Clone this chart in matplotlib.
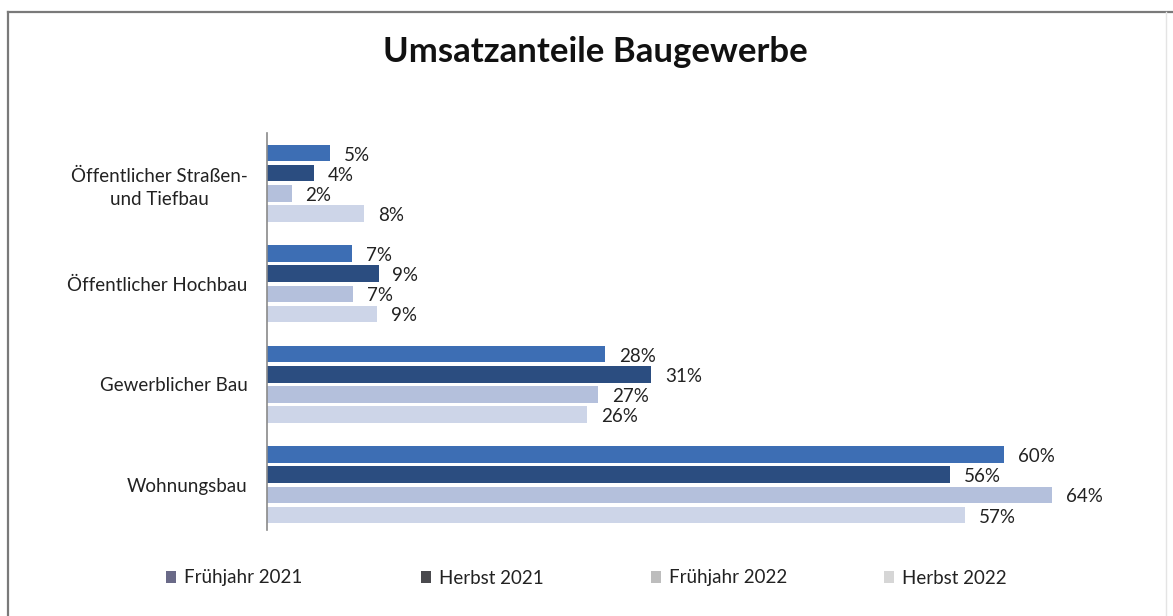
import matplotlib
matplotlib.use("Agg")
import matplotlib.pyplot as plt
from matplotlib.patches import Patch
from matplotlib.lines import Line2D
import numpy as np

plt.rcParams['font.family'] = ['Lato', 'DejaVu Sans']

categories = ["Öffentlicher Straßen-\nund Tiefbau", "Öffentlicher Hochbau",
              "Gewerblicher Bau", "Wohnungsbau"]
series = ["Frühjahr 2021", "Herbst 2021", "Frühjahr 2022", "Herbst 2022"]
fruehjahr_2021 = [5.1, 6.9, 27.6, 60.1]
herbst_2021 = [3.8, 9.1, 31.3, 55.7]
fruehjahr_2022 = [2.0, 7.0, 27.0, 64.0]
herbst_2022 = [7.9, 9.0, 26.1, 56.9]
labels_f21 = ["5%", "7%", "28%", "60%"]
labels_h21 = ["4%", "9%", "31%", "56%"]
labels_f22 = ["2%", "7%", "27%", "64%"]
labels_h22 = ["8%", "9%", "26%", "57%"]

values = [fruehjahr_2021, herbst_2021, fruehjahr_2022, herbst_2022]
labels = [labels_f21, labels_h21, labels_f22, labels_h22]
bar_colors = ["#3d6eb4", "#2b4d80", "#b4c0dc", "#cdd5e8"]
legend_colors = ["#6a6a88", "#4a4a4e", "#bdbdbd", "#d6d6d6"]
legend_x = [166, 421, 651, 884]

W, H = 1173, 616
fig = plt.figure(figsize=(W / 100, H / 100), dpi=100)
fig.patch.set_facecolor("white")

# outer frame
fig.add_artist(Line2D([8 / W, 8 / W], [0, 1 - 12 / H], color="#7a7a7a", lw=1.6))
fig.add_artist(Line2D([8 / W, 1], [1 - 12 / H, 1 - 12 / H], color="#7a7a7a", lw=1.6))
fig.add_artist(Line2D([1166 / W, 1166 / W], [0, 1 - 12 / H], color="#e4e4e4", lw=1.0))

ax = fig.add_axes([267 / W, 1 - 530 / H, 883 / W, 397 / H])
y = np.arange(len(categories))
step = 0.2
height = 0.165
offsets = [-1.5, -0.5, 0.5, 1.5]
for vals, labs, col, off in zip(values, labels, bar_colors, offsets):
    bars = ax.barh(y + off * step, vals, height=height, color=col)
    for b, lab in zip(bars, labs):
        ax.annotate(lab, (b.get_width(), b.get_y() + b.get_height() / 2),
                    xytext=(10, -1.5), textcoords="offset points",
                    ha="left", va="center", fontsize=13.5, color="#222222")

ax.set_xlim(0, 72)
ax.set_ylim(3.45, -0.5)
ax.set_yticks(y)
ax.set_yticklabels(categories, fontsize=13.5, color="#222222", ha="right",
                   multialignment="center", linespacing=1.45)
ax.tick_params(axis="y", length=0, pad=14)
ax.set_xticks([])
for s in ["top", "right", "bottom"]:
    ax.spines[s].set_visible(False)
ax.spines["left"].set_color("#8a8a8a")
ax.spines["left"].set_linewidth(1.2)

fig.text(595 / W, 1 - 52 / H, "Umsatzanteile Baugewerbe", ha="center", va="center",
         fontsize=25, fontweight="bold", color="#111111")

for name, col, lx in zip(series, legend_colors, legend_x):
    leg = fig.legend([Patch(facecolor=col, edgecolor="none")], [name], loc="center left",
                     bbox_to_anchor=(lx / W, 1 - 578 / H), frameon=False, fontsize=13.5,
                     handlelength=0.55, handleheight=0.55, handletextpad=0.4,
                     borderpad=0, borderaxespad=0, labelcolor="#222222")

fig.savefig("out.png", dpi=100, facecolor="white")
